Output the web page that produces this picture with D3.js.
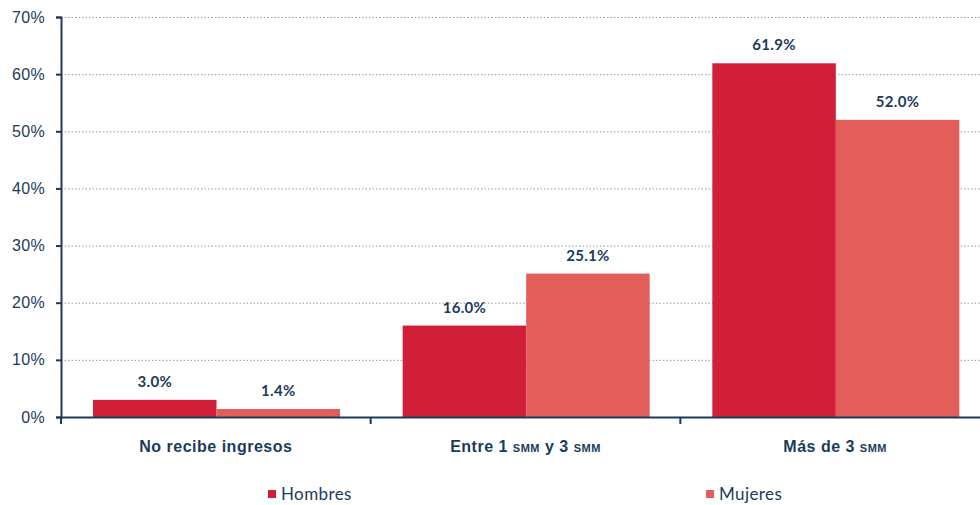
<!DOCTYPE html>
<html>
<head>
<meta charset="utf-8">
<script src="https://cdn.jsdelivr.net/npm/d3@7"></script>
<style>
  body { margin: 0; background: #fff; }
  svg { display: block; font-family: Lato, "Open Sans", sans-serif; }
</style>
</head>
<body>
<svg id="chart"></svg>
<script>
// ingresos por sexo
var categories = ["No recibe ingresos", "Entre 1 smm y 3 smm", "Más de 3 smm"]
var series = ["Hombres", "Mujeres"]
var hombres = [3.0, 16.0, 61.9]
var mujeres = [1.4, 25.1, 52.0]
var yTicks = [0, 10, 20, 30, 40, 50, 60, 70]

var colors = ["#d11f3a", "#e35d5a"]
var textColor = "#1c3b5a"

var dimensions = {
    width: 980,
    height: 505,
    margin: { top: 17, bottom: 88, left: 61, right: -10 }
}

var svg = d3.select("#chart")
    .attr("width", dimensions.width)
    .attr("height", dimensions.height)

var rows = categories.map((c, i) => ({ cat: c, values: [hombres[i], mujeres[i]] }))

var xScale = d3.scaleBand()
    .domain(categories)
    .range([dimensions.margin.left, dimensions.width - dimensions.margin.right])

var x1 = d3.scaleBand()
    .domain(series)
    .range([32, 32 + 247])

var yScale = d3.scaleLinear()
    .domain([0, 70])
    .range([dimensions.height - dimensions.margin.bottom, dimensions.margin.top])

var y0 = yScale(0)

// dotted grid
svg.append("g")
    .selectAll("line")
    .data(yTicks.slice(1))
    .enter()
    .append("line")
    .attr("x1", dimensions.margin.left)
    .attr("x2", dimensions.width)
    .attr("y1", d => yScale(d) + 0.5)
    .attr("y2", d => yScale(d) + 0.5)
    .attr("stroke", "#9a9a9a")
    .attr("stroke-width", 1)
    .attr("stroke-dasharray", "1.5,2")

// bars
var groups = svg.selectAll(".grp")
    .data(rows)
    .enter()
    .append("g")
    .attr("transform", d => `translate(${xScale(d.cat)},0)`)

groups.selectAll("rect")
    .data(d => d.values.map((v, i) => ({ s: series[i], v: v, i: i })))
    .enter()
    .append("rect")
    .attr("x", d => x1(d.s))
    .attr("width", x1.bandwidth())
    .attr("y", d => yScale(d.v))
    .attr("height", d => y0 - yScale(d.v))
    .attr("fill", d => colors[d.i])

groups.selectAll("text")
    .data(d => d.values.map((v, i) => ({ s: series[i], v: v, i: i })))
    .enter()
    .append("text")
    .attr("x", d => x1(d.s) + x1.bandwidth() / 2)
    .attr("y", d => yScale(d.v) - 13)
    .attr("text-anchor", "middle")
    .attr("fill", textColor)
    .style("font-size", "15px")
    .style("font-weight", "bold")
    .style("letter-spacing", "0.3px")
    .text(d => d.v.toFixed(1) + "%")

// y axis
var yAxis = svg.append("g")
    .attr("transform", `translate(${dimensions.margin.left},0)`)
    .call(d3.axisLeft(yScale).tickValues(yTicks).tickFormat(d => d + "%").tickSize(5).tickSizeOuter(5))
yAxis.select(".domain").attr("stroke", textColor).attr("stroke-width", 2)
yAxis.selectAll(".tick line").attr("stroke", textColor).attr("stroke-width", 2)
yAxis.selectAll("text")
    .attr("x", -16)
    .attr("fill", textColor)
    .style("font-size", "16px")
    .style("letter-spacing", "0.3px")

// x axis
var xAxis = svg.append("g")
    .attr("transform", `translate(0,${y0})`)
    .call(d3.axisBottom(xScale).tickSize(0).tickSizeOuter(0))
xAxis.select(".domain").attr("stroke", textColor).attr("stroke-width", 2)
xAxis.selectAll("text")
    .attr("y", 24)
    .attr("fill", textColor)
    .style("font-size", "16px")
    .style("font-weight", "bold")
    .style("letter-spacing", "0.5px")
    .each(function (d) {
        // "smm" set in small caps
        var t = d3.select(this).text("")
        d.split(/(smm)/).forEach(part => {
            if (!part) return
            var sp = t.append("tspan").text(part)
            if (part == "smm") sp.style("font-variant", "small-caps")
        })
    })

// boundary ticks between categories
xAxis.selectAll(".sep")
    .data(categories)
    .enter()
    .append("line")
    .attr("x1", d => xScale(d))
    .attr("x2", d => xScale(d))
    .attr("y1", 0)
    .attr("y2", 7)
    .attr("stroke", textColor)
    .attr("stroke-width", 2)

// legend
var legendX = [268, 706]
var legend = svg.selectAll(".legend")
    .data(series)
    .enter()
    .append("g")
    .attr("transform", (d, i) => `translate(${legendX[i]},490)`)
legend.append("rect")
    .attr("width", 8)
    .attr("height", 8)
    .attr("fill", (d, i) => colors[i])
legend.append("text")
    .attr("x", 13)
    .attr("y", 10)
    .attr("fill", textColor)
    .style("font-size", "17px")
    .style("letter-spacing", "0.4px")
    .text(d => d)
</script>
</body>
</html>
